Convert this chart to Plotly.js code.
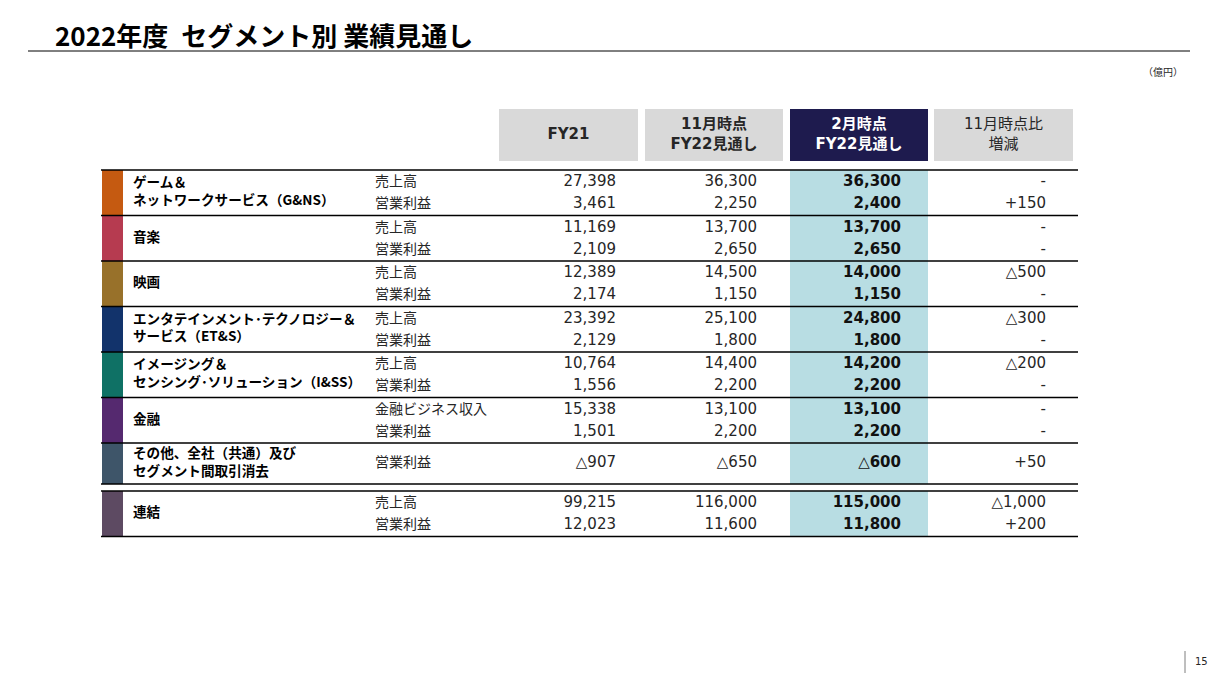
<!DOCTYPE html>
<html><head><meta charset="utf-8">
<script src="https://cdn.plot.ly/plotly-3.0.1.min.js"></script>
<style>html,body{margin:0;padding:0;background:#fff;overflow:hidden}</style>
</head><body><div id="chart" style="width:1221px;height:683px"></div>
<script>
// ---- data ----
const titleText = "2022年度\u2002セグメント別 業績見通し";
const unitText = "（億円）";
const pageNumber = "15";
const columnHeaders = ["FY21", "11月時点<br>FY22見通し", "2月時点<br>FY22見通し", "11月時点比<br>増減"];
const segments = [
  "ゲーム＆<br>ネットワークサービス（G&NS）",
  "音楽",
  "映画",
  "エンタテインメント･テクノロジー＆<br>サービス（ET&S）",
  "イメージング＆<br>センシング･ソリューション（I&SS）",
  "金融",
  "その他、全社（共通）及び<br>セグメント間取引消去",
  "連結"
];
const segmentColors = ["#c55a11", "#b63b50", "#98712a", "#12336b", "#0f7165", "#55296f", "#3e5569", "#5d4a62"];
const rowLabels = [
  ["売上高", "営業利益"],
  ["売上高", "営業利益"],
  ["売上高", "営業利益"],
  ["売上高", "営業利益"],
  ["売上高", "営業利益"],
  ["金融ビジネス収入", "営業利益"],
  ["営業利益"],
  ["売上高", "営業利益"]
];
const fy21 =        [27398, 3461, 11169, 2109, 12389, 2174, 23392, 2129, 10764, 1556, 15338, 1501, -907, 99215, 12023];
const novForecast = [36300, 2250, 13700, 2650, 14500, 1150, 25100, 1800, 14400, 2200, 13100, 2200, -650, 116000, 11600];
const febForecast = [36300, 2400, 13700, 2650, 14000, 1150, 24800, 1800, 14200, 2200, 13100, 2200, -600, 115000, 11800];
const changeVsNov = [0, 150, 0, 0, -500, 0, -300, 0, -200, 0, 0, 0, 50, -1000, 200];

// ---- geometry / styles ----
const W = 1221, H = 683;
const G = {
  tableLeft: 101, tableRight: 1078, tableTop: 170,
  segH: 45.5, singleH: 41, totalGap: 7,
  headTop: 109, headBottom: 161,
  headCols: [[499, 638], [645, 783], [790, 928], [934, 1073]],
  numRight: [616, 757, 901, 1046],
  labelX: 375, nameX: 133, barX: [102, 123]
};
const CJK = "Noto Sans CJK JP, sans-serif";
const NUM = "DejaVu Sans, Noto Sans CJK JP, sans-serif";
const TXT = "#262626";

function fmt(v) {
  const s = Math.abs(v).toLocaleString("en-US");
  return v < 0 ? "△" + s : s;
}
function fmtDiff(v) {
  if (v === 0) return "-";
  return v > 0 ? "+" + Math.abs(v).toLocaleString("en-US") : "△" + Math.abs(v).toLocaleString("en-US");
}

// compute segment extents and row centres
const segTop = [], segBot = [], rowY = [], allLabels = [], segMid = [];
let y = G.tableTop;
segments.forEach((s, i) => {
  if (i === segments.length - 1) y += G.totalGap;
  const n = rowLabels[i].length;
  const h = n === 1 ? G.singleH : G.segH;
  segTop.push(y); segBot.push(y + h); segMid.push(y + h / 2);
  if (n === 1) { rowY.push(y + h / 2); allLabels.push(rowLabels[i][0]); }
  else { rowY.push(y + 12.5, y + 34.5); allLabels.push(rowLabels[i][0], rowLabels[i][1]); }
  y += h;
});

const shapes = [];
// highlighted column background
const hl = G.headCols[2];
shapes.push({type: "rect", layer: "below", xref: "x", yref: "y", x0: hl[0], x1: hl[1], y0: G.tableTop, y1: segBot[segments.length - 2], fillcolor: "#b8dde3", line: {width: 0}});
shapes.push({type: "rect", layer: "below", xref: "x", yref: "y", x0: hl[0], x1: hl[1], y0: segTop[segments.length - 1], y1: segBot[segments.length - 1], fillcolor: "#b8dde3", line: {width: 0}});
// header cells
G.headCols.forEach((c, i) => {
  shapes.push({type: "rect", layer: "below", xref: "x", yref: "y", x0: c[0], x1: c[1], y0: G.headTop, y1: G.headBottom,
    fillcolor: i === 2 ? "#1e1b4e" : "#d9d9d9", line: {width: 0}});
});
// segment colour bars
segments.forEach((s, i) => {
  shapes.push({type: "rect", layer: "below", xref: "x", yref: "y", x0: G.barX[0], x1: G.barX[1], y0: segTop[i], y1: segBot[i],
    fillcolor: segmentColors[i], line: {width: 0}});
});
// horizontal rules
const ruleYs = Array.from(new Set([...segTop, ...segBot]));
ruleYs.forEach(ry => {
  shapes.push({type: "line", layer: "below", xref: "x", yref: "y", x0: G.tableLeft, x1: G.tableRight, y0: ry, y1: ry, line: {color: "#000", width: 1.3}});
});
// title underline
shapes.push({type: "line", xref: "x", yref: "y", x0: 28, x1: 1190, y0: 51, y1: 51, line: {color: "#000", width: 1}});
// page number divider
shapes.push({type: "line", xref: "x", yref: "y", x0: 1185, x1: 1185, y0: 651, y1: 673, line: {color: "#7f7f7f", width: 1}});

const traces = [];
function textTrace(xs, ys, texts, pos, font) {
  traces.push({type: "scatter", mode: "text", x: xs, y: ys, text: texts, textposition: pos,
    textfont: font, hoverinfo: "skip", showlegend: false, cliponaxis: false});
}
// headers
columnHeaders.forEach((h, i) => {
  const c = G.headCols[i];
  textTrace([(c[0] + c[1]) / 2], [(G.headTop + G.headBottom) / 2], [h], "middle center",
    {family: NUM, size: 15, color: i === 2 ? "#ffffff" : TXT, weight: i === 3 ? "normal" : "bold"});
});
// segment names
textTrace(segments.map(() => G.nameX), segMid, segments, "middle right", {family: CJK, size: 13.6, color: "#000", weight: "bold"});
// row labels
textTrace(allLabels.map(() => G.labelX), rowY, allLabels, "middle right", {family: CJK, size: 14, color: TXT});
// numbers
const cols = [fy21.map(fmt), novForecast.map(fmt), febForecast.map(fmt), changeVsNov.map(fmtDiff)];
cols.forEach((col, i) => {
  textTrace(col.map(() => G.numRight[i]), rowY, col, "middle left",
    {family: NUM, size: 15, color: i === 2 ? "#111" : TXT, weight: i === 2 ? "bold" : "normal"});
});
// unit and page number
textTrace([1183], [73], [unitText], "middle left", {family: CJK, size: 10, color: TXT});
textTrace([1195], [662], [pageNumber], "middle right", {family: NUM, size: 10, color: TXT});

const layout = {
  width: W, height: H,
  margin: {l: 0, r: 0, t: 0, b: 0, pad: 0},
  paper_bgcolor: "#fff", plot_bgcolor: "#fff",
  title: {text: "<b>" + titleText + "</b>", x: 55 / W, xanchor: "left", y: 1 - 37 / H, yanchor: "middle", xref: "paper", yref: "paper",
    font: {family: CJK, size: 26, color: "#000"}},
  xaxis: {range: [0, W], visible: false, fixedrange: true},
  yaxis: {range: [H, 0], visible: false, fixedrange: true},
  shapes: shapes,
  showlegend: false
};
Plotly.newPlot("chart", traces, layout, {staticPlot: true, displayModeBar: false});
</script>
</body></html>
